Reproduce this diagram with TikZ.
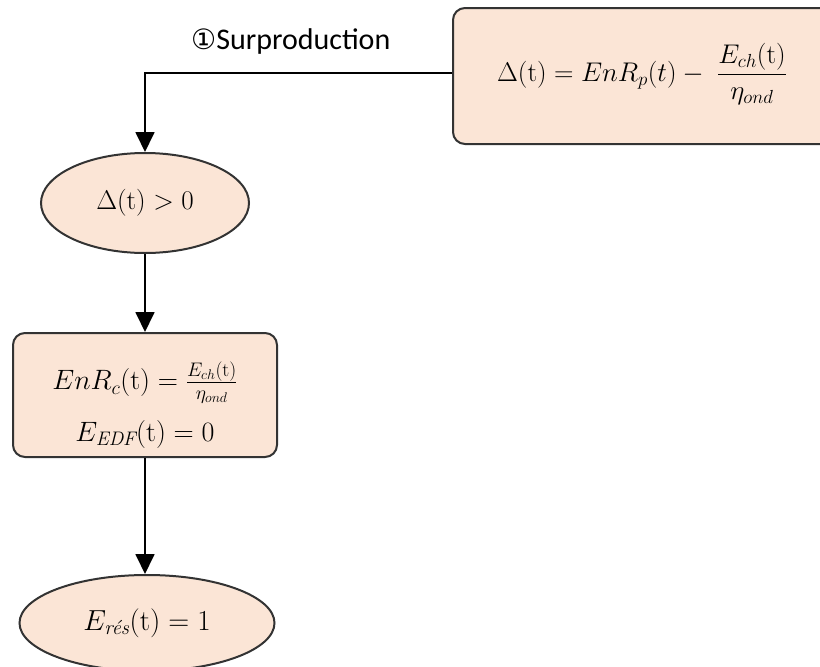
\RequirePackage{fix-cm}
\documentclass[tikz,border=0pt]{standalone}
\usepackage{amsmath}
\usepackage{fontspec}
\newfontfamily\carlito{Carlito}
\newfontfamily\dejavu{DejaVu Sans}
\usetikzlibrary{shapes.geometric,arrows.meta}
\definecolor{peach}{HTML}{FBE5D6}
\definecolor{edge}{HTML}{333333}
\tikzset{
  x=1pt,y=-1pt,
  rbox/.style={draw=edge,line width=2pt,fill=peach,rounded corners=12pt,inner sep=0pt,align=center},
  oval/.style={ellipse,draw=edge,line width=2pt,fill=peach,inner sep=0pt},
  conn/.style={line width=1.8pt,draw=black,-{Triangle[length=20pt,width=19pt]}}
}
\begin{document}
\begin{tikzpicture}
\useasboundingbox (0,0) rectangle (820,667);
\node[rbox,minimum width=410pt,minimum height=136pt] (b1) at (658,76) {};
\node (t1) at (642,74) {\fontsize{27}{32}\selectfont $\Delta(\mathrm{t}) = EnR_p(t) - \;\dfrac{E_{ch}(\mathrm{t})}{\eta_{ond}}$};
\node[oval,minimum width=208pt,minimum height=100pt] (e1) at (145,203) {\fontsize{27}{30}\selectfont $\Delta(\mathrm{t}) > 0$};
\node[rbox,minimum width=264pt,minimum height=124pt] (b2) at (145,395) {};
\node[align=center] (t2) at (145,405) {\fontsize{28}{33}\selectfont $EnR_c(\mathrm{t}) = \tfrac{E_{ch}(\mathrm{t})}{\eta_{ond}}$\\[16pt] \fontsize{28}{33}\selectfont $E_{\mathit{EDF}}(\mathrm{t}) = 0$};
\node[oval,minimum width=255pt,minimum height=96pt] (e3) at (147,623) {\fontsize{29}{33}\selectfont $E_{\textit{rés}}(\mathrm{t}) = 1$};
\node[anchor=west,inner sep=0pt] (lab) at (191,41) {{\fontsize{28}{32}\selectfont\dejavu ①}{\fontsize{30}{34}\selectfont\carlito Surproduction}};
\draw[conn] (b1.west |- 0,73) -| (e1.north);
\draw[conn] (e1.south) -- (b2.north -| e1.south);
\draw[conn] (b2.south -| e1.south) -- (e3.north -| e1.south);
\end{tikzpicture}
\end{document}
